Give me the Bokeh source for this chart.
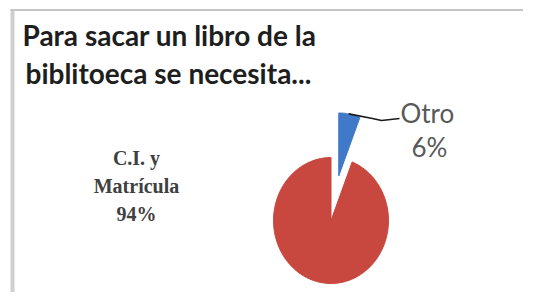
import numpy as np
from bokeh.plotting import figure
from bokeh.models import Range1d, ColumnDataSource
from bokeh.core.properties import value
from bokeh.embed import file_html
from bokeh.resources import INLINE

# ---- data (slices listed clockwise from 12 o'clock) ----
categories = ["Otro", "C.I. y Matrícula"]
values = [6, 94]
label_lines = [["Otro"], ["C.I. y", "Matrícula"]]
title_lines = ["Para sacar un libro de la", "biblitoeca se necesita..."]

colors = ["#3F79C8", "#C8473F"]
explode = [0.72, 0.0]

W, H = 523, 292
p = figure(width=W, height=H, x_range=Range1d(0, W), y_range=Range1d(0, H),
           output_backend="svg", toolbar_location=None, min_border=0,
           x_axis_location=None, y_axis_location=None)
p.grid.visible = False
p.outline_line_color = None
p.background_fill_color = "white"
p.border_fill_color = "white"

def px(x):
    return x

def py(y):
    return H - y

def ty(y):  # text baseline position
    return H + 8 - y

# frame (left and top edges of the chart area)
p.line([px(12), px(12)], [py(9), py(320)], line_color="#cfcfcf", line_width=4)
p.line([px(10), px(560)], [py(9.5), py(9.5)], line_color="#c4c4c4", line_width=2)

# ---- pie ----
cx, cy = px(330.5), py(220)
rx, ry = 57.5, 63.0
total = float(sum(values))
fracs = [v / total for v in values]
starts = np.cumsum([0] + fracs[:-1]) * 2 * np.pi
ends = np.cumsum(fracs) * 2 * np.pi

xs, ys, centers = [], [], []
for s, e, ex in zip(starts, ends, explode):
    mid = (s + e) / 2
    ox = cx + rx * ex * np.sin(mid)
    oy = cy + ry * ex * np.cos(mid)
    t = np.linspace(s, e, 200)
    xs.append([ox] + list(ox + rx * np.sin(t)) + [ox])
    ys.append([oy] + list(oy + ry * np.cos(t)) + [oy])
    centers.append((ox, oy))

src = ColumnDataSource(dict(xs=xs, ys=ys, color=colors, cat=categories))
p.patches("xs", "ys", fill_color="color", line_color="color", line_width=1, source=src)

# leader line from the exploded "Otro" slice to its label
ox, oy = centers[0]
a = np.deg2rad(10)
lx0 = ox + rx * np.sin(a)
ly0 = oy + ry * np.cos(a)
p.line([lx0, px(372), px(381), px(399)], [ly0, py(118), py(120), py(118)],
       line_color="#1a1a1a", line_width=1.6)

pcts = [f"{v / total * 100:.0f}%" for v in values]

# "Otro" label
p.text(x=[px(400)], y=[ty(120)], text=[label_lines[0][0]],
       text_font=value("Lato"), text_font_size="26px", text_color="#595959",
       text_align="left", text_baseline="alphabetic")
p.text(x=[px(429)], y=[ty(154)], text=[pcts[0]],
       text_font=value("Lato"), text_font_size="26px", text_color="#595959",
       text_align="center", text_baseline="alphabetic")

# "C.I. y Matrícula" label
big_lines = label_lines[1] + [pcts[1]]
p.text(x=[px(136)] * 3, y=[ty(165), ty(193), ty(221)], text=big_lines,
       text_font=value("Liberation Serif"), text_font_size="20px", text_font_style="bold",
       text_color="#404040", text_align="center", text_baseline="alphabetic")

# title
p.text(x=[px(22), px(25)], y=[ty(42), ty(80)], text=title_lines,
       text_font=value("Lato"), text_font_size="28px", text_font_style="bold",
       text_color="#1e1e1e", text_align="left", text_baseline="alphabetic")

open("out.html", "w").write(file_html(p, INLINE))
